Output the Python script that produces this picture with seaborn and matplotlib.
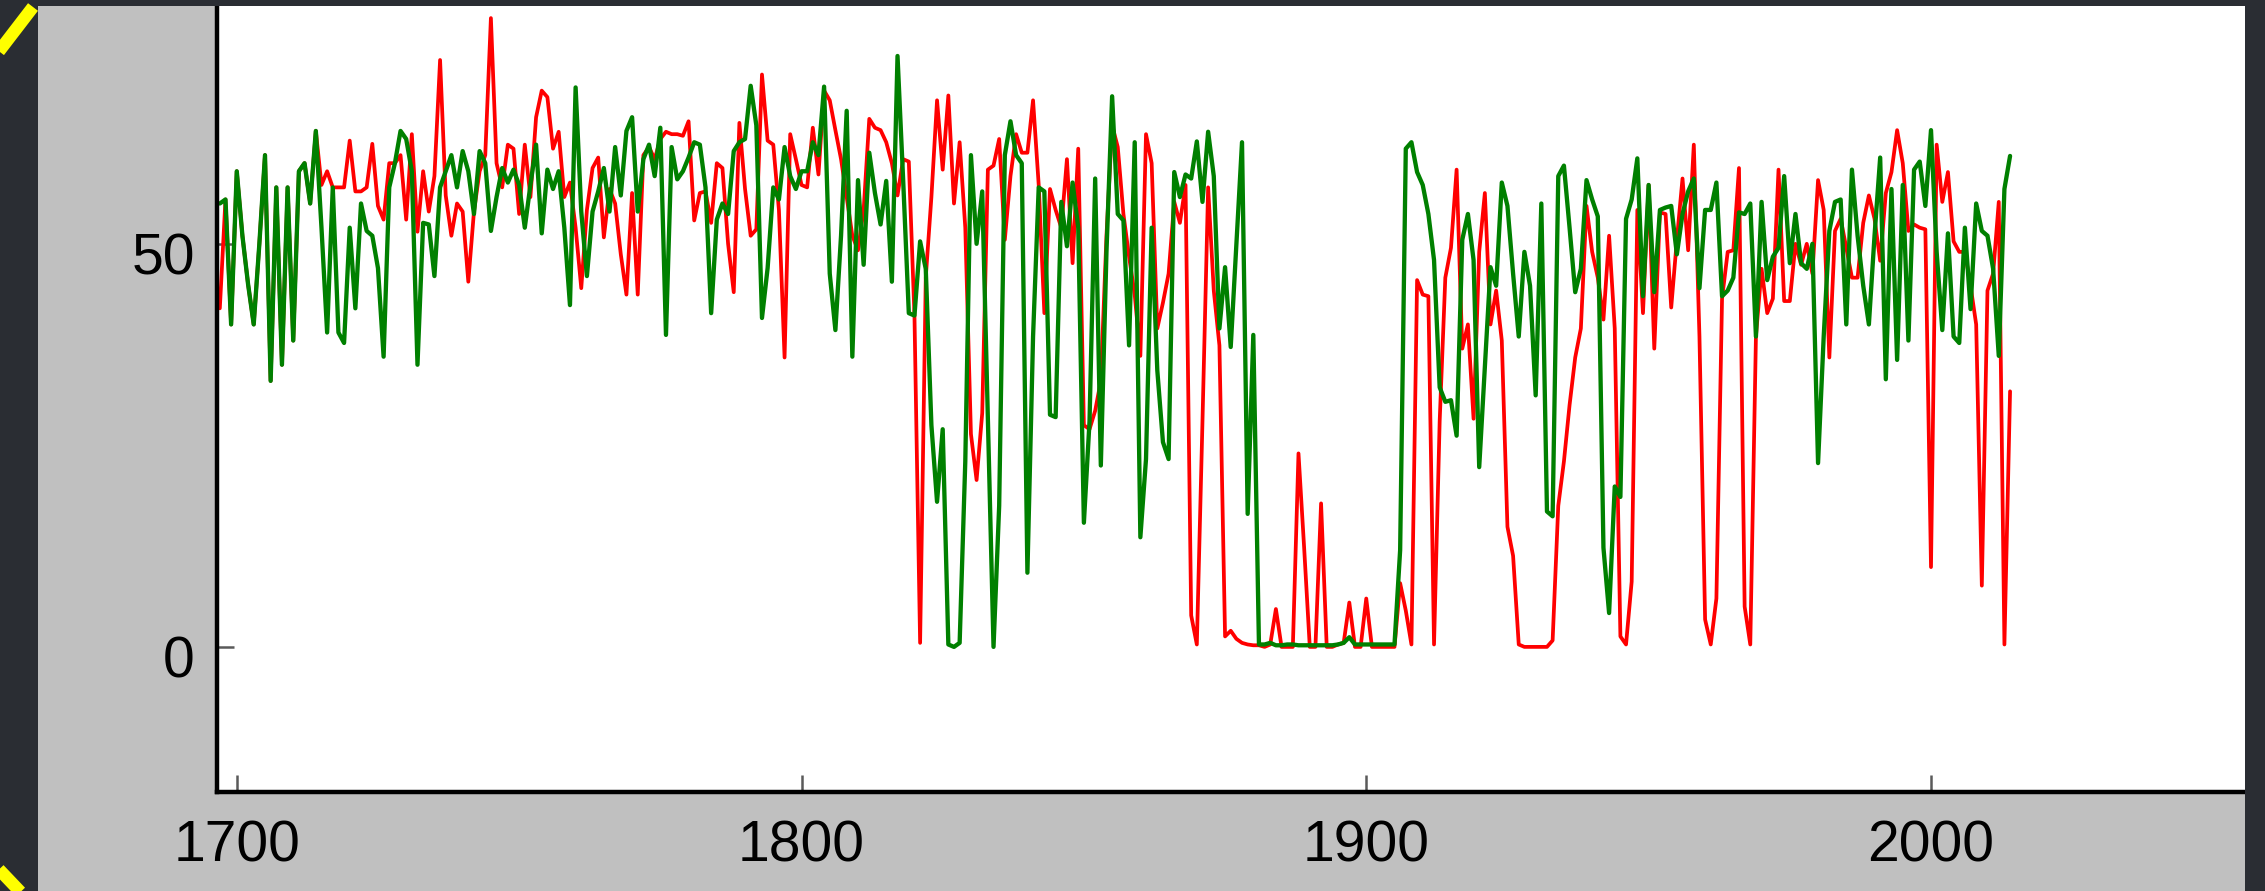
import matplotlib
matplotlib.use("Agg")
import matplotlib.pyplot as plt
from matplotlib.lines import Line2D
from matplotlib.patches import Rectangle
from matplotlib.transforms import ScaledTranslation
import pandas as pd
import seaborn as sns

# ---- data -------------------------------------------------------------
years = list(range(1697, 2015))

green_values = [
    55, 55.5, 40,
    59, 51, 45, 40, 50, 61, 33, 57, 35, 57,
    38, 59, 60, 55, 64, 52, 39, 57, 39, 37.7,
    52, 42, 55, 51.6, 51, 47, 36, 57, 60, 64,
    63, 59, 35, 52.6, 52.4, 46, 57, 59, 61, 57,
    61.5, 59, 53.7, 61.5, 60, 51.6, 55.8, 59.4, 57.6, 59.2,
    57.3, 52, 57.3, 62.3, 51.3, 59.2, 56.8, 59, 52, 42.4,
    69.4, 54, 46, 54, 56.5, 59.4, 54, 62, 56, 64,
    65.7, 54, 60.5, 62.3, 58.4, 64.4, 38.7, 62, 58, 59,
    60.7, 62.6, 62.3, 57, 41.4, 53, 55, 53.7, 61.5, 62.6,
    63, 69.6, 64.7, 40.8, 47, 57, 55.5, 62, 58.4, 56.8,
    59, 59, 62.6, 61, 69.5, 46.3, 39.3, 51, 66.5, 36,
    57.9, 47.4, 61.3, 56.3, 52.4, 57.8, 45.3, 73.3, 57.9, 41.4,
    41.1, 50.3, 46.9, 27.5, 18, 27, 0.3, 0, 0.5, 23,
    61, 50, 56.5, 28, 0, 17.5, 61, 65.2, 61, 60,
    9.2, 38.5, 57, 56.5, 28.8, 28.5, 55.2, 49.7, 57.6, 52,
    15.4, 28, 58.1, 22.5, 49, 68.3, 53.7, 52.9, 37.4, 62.6,
    13.6, 23.3, 52, 34.3, 25.4, 23.3, 58.9, 55.8, 58.6, 58.1,
    62.7, 55.2, 63.9, 58.4, 39.5, 47.1, 37.2, 50, 62.6, 16.5,
    38.7, 0.3, 0.3, 0.5, 0.2, 0.2, 0.3, 0.3, 0.2, 0.2,
    0.2, 0.2, 0.2, 0.2, 0.2, 0.3, 0.5, 1.2, 0.3, 0.3,
    0.3, 0.3, 0.3, 0.3, 0.3, 0.3, 12, 61.8, 62.6, 58.9,
    57.3, 53.7, 48, 32.2, 30.4, 30.6, 26.2, 50.5, 53.7, 48,
    22.3, 34.8, 47.1, 44.8, 57.6, 54.7, 46.3, 38.5, 49, 44.8,
    31.2, 55, 16.8, 16.2, 58.4, 59.7, 52, 44, 46.9, 57.9,
    55.5, 53.4, 12.3, 4.2, 19.9, 18.6, 53.1, 55.5, 60.6, 43.5,
    57.3, 44, 54.2, 54.5, 54.7, 48.7, 53.7, 56.5, 58.1, 44.5,
    54.2, 54.2, 57.6, 43.5, 44.2, 45.8, 53.9, 53.7, 55, 38.5,
    55.2, 45.5, 48.4, 49.5, 58.4, 47.6, 53.7, 47.6, 46.9, 50,
    22.8, 38.5, 51.6, 55.2, 55.5, 40, 59.2, 51, 44.8, 40,
    51, 60.7, 33.2, 56.8, 35.6, 57.3, 38, 59.2, 60.2, 54.7,
    64.1, 49, 39.3, 51.3, 38.5, 37.7, 52, 41.9, 55, 51.6,
    51, 46.9, 36.1, 56.8, 60.9,
]

red_values = [
    42, 55.5, 40,
    59, 51, 45, 40, 50, 61, 33, 57, 35, 57,
    38, 59, 60, 55, 64, 57.3, 59, 57, 57, 57,
    62.8, 56.5, 56.5, 57, 62.4, 54.7, 53, 60, 60, 61,
    53, 63.6, 51.5, 59, 54, 58.4, 72.8, 56, 51, 55,
    54, 45.3, 54, 59, 61, 78, 60, 57, 62.3, 61.8,
    53.7, 62.3, 55.8, 65.7, 69, 68.2, 61.8, 63.9, 55.8, 57.6,
    52, 44.5, 54.2, 59.4, 60.7, 50.8, 56.8, 55, 48.7, 43.7,
    56.3, 43.7, 61, 62, 60.5, 63, 63.9, 63.6, 63.6, 63.4,
    65.2, 52.9, 56.3, 56.5, 52.6, 60, 59.4, 50, 44, 65,
    56.8, 51, 51.8, 71, 62.8, 62.3, 54.2, 35.9, 63.6, 60.5,
    57.3, 57, 64.4, 58.6, 69, 67.8, 64.1, 60.5, 55.8, 51,
    49.2, 54.2, 65.5, 64.4, 64.1, 62.6, 60, 56, 60.5, 60.2,
    41.1, 0.5, 45.8, 55.8, 67.8, 59.2, 68.4, 55, 62.6, 52,
    26.4, 20.7, 29, 59.2, 59.7, 63, 50.5, 58.4, 63.6, 61.3,
    61.3, 67.8, 57.3, 41.4, 56.8, 54.2, 52, 60.5, 47.6, 61.8,
    27.5, 27, 29.3, 33, 51, 64.7, 62, 53.7, 48.4, 43.7,
    36.1, 63.6, 60, 39.5, 42.7, 46.3, 55.2, 52.6, 57.3, 3.9,
    0.3, 28, 57, 44.2, 37.4, 1.3, 2, 1, 0.5, 0.3,
    0.2, 0.2, 0, 0.3, 4.7, 0, 0, 0, 24, 12.3,
    0, 0, 17.8, 0, 0, 0.3, 0.5, 5.5, 0, 0,
    6, 0, 0, 0, 0, 0, 7.9, 4.5, 0.3, 45.5,
    43.7, 43.5, 0.3, 28, 45.8, 49.5, 59.2, 37, 40, 28.3,
    49, 56.3, 40, 44.2, 38, 14.9, 11.3, 0.3, 0, 0,
    0, 0, 0, 0.8, 17.5, 23, 30, 35.9, 39.5, 54.7,
    49, 45.8, 40.6, 51, 39.5, 1.3, 0.3, 8.1, 54.2, 41.4,
    57.3, 37, 53.9, 53.7, 42.1, 50.5, 58.1, 49.2, 62.3, 38.5,
    3.4, 0.3, 6, 43.2, 49, 49.2, 59.4, 5, 0.3, 38.5,
    46.9, 41.4, 43.2, 59.2, 42.9, 42.9, 50, 47.4, 50, 46.3,
    57.9, 54.2, 35.9, 51.6, 53.1, 49.5, 45.8, 45.8, 52.6, 56,
    53.1, 47.9, 56.3, 58.9, 64.1, 60, 51.6, 52.4, 52, 51.8,
    9.9, 62.3, 55.2, 58.9, 50.3, 49, 49, 44.8, 40, 7.6,
    44.2, 46.3, 55.2, 0.3, 31.7,
]

x_ticks = [1700, 1800, 1900, 2000]
y_ticks = [0, 50]

# ---- style ------------------------------------------------------------
sns.set_theme(style="white")
plt.rcParams["font.family"] = ["Liberation Sans", "DejaVu Sans"]

W, H = 2265, 891
fig = plt.figure(figsize=(W / 100, H / 100), dpi=100, facecolor="#c0c0c0")
ax = fig.add_axes([217 / W, 1 - 792 / H, (2245 - 217) / W, (792 - 6) / H])
ax.set_facecolor("white")

df = pd.DataFrame({"year": years, "red": red_values, "green": green_values})
sns.lineplot(data=df, x="year", y="red", color="#ff0000", linewidth=2.7, ax=ax)
sns.lineplot(data=df, x="year", y="green", color="#008000", linewidth=3.1, ax=ax)

ax.set_xlim(1696.5, 2055.6)
ax.set_ylim(-18.0, 79.5)
ax.set_xticks(x_ticks)
ax.set_yticks(y_ticks)
ax.set_xlabel("")
ax.set_ylabel("")

for side in ("top", "right"):
    ax.spines[side].set_visible(False)
for side in ("left", "bottom"):
    ax.spines[side].set_color("black")
    ax.spines[side].set_linewidth(3.2)

ax.tick_params(axis="both", which="major", direction="in", length=12,
               width=1.8, color="#5a5a5a", labelcolor="black",
               labelsize=41, bottom=True, left=True)
ax.tick_params(axis="x", pad=20)
ax.tick_params(axis="y", pad=16)

# y labels sit slightly below their ticks
shift = ScaledTranslation(0, -0.10, fig.dpi_scale_trans)
for lab in ax.get_yticklabels():
    lab.set_transform(lab.get_transform() + shift)

# ---- window frame around the chart ----------------------------------
dark = "#2a2d33"
def px_rect(x0, y0, x1, y1):
    return Rectangle((x0 / W, 1 - y1 / H), (x1 - x0) / W, (y1 - y0) / H,
                     transform=fig.transFigure, facecolor=dark,
                     edgecolor="none", zorder=10)

fig.patches.extend([
    px_rect(0, 0, 38, H),
    px_rect(0, 0, W, 6),
    px_rect(2245, 0, W, H),
])

def px_line(x0, y0, x1, y1):
    return Line2D([x0 / W, x1 / W], [1 - y0 / H, 1 - y1 / H],
                  transform=fig.transFigure, color="#ffff00",
                  linewidth=9, solid_capstyle="butt", zorder=11)

fig.lines.extend([
    px_line(-10, 63, 33, 7),
    px_line(-10, 860, 30, 902),
])

fig.savefig("out.png", dpi=100, facecolor=fig.get_facecolor())
